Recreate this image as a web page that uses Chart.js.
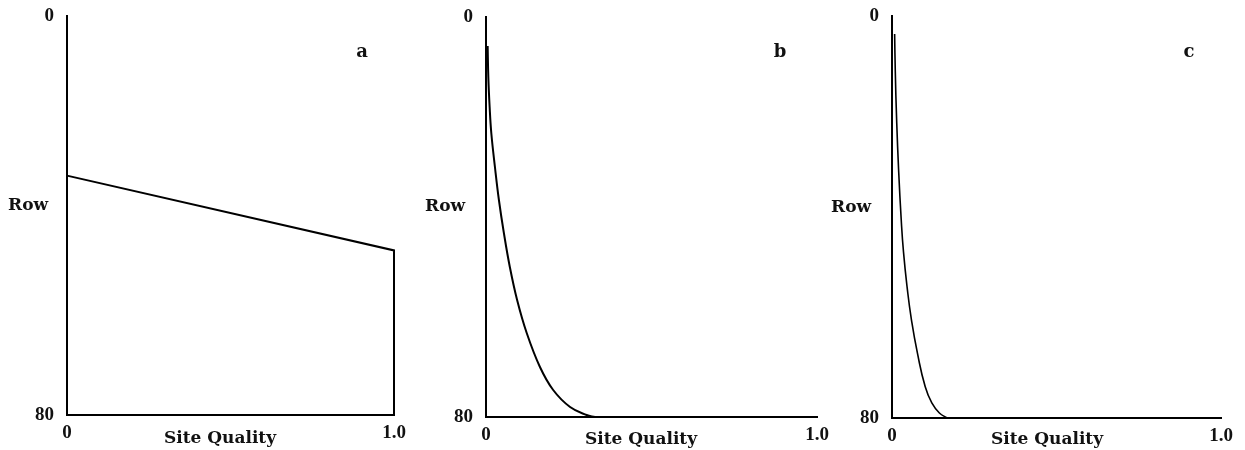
<!DOCTYPE html>
<html>
<head>
<meta charset="utf-8">
<title>Row vs Site Quality</title>
<script src="https://cdn.jsdelivr.net/npm/chart.js@4.4.1/dist/chart.umd.min.js"></script>
<style>
  html, body { margin: 0; padding: 0; background: #fff; }
  #wrap { position: relative; width: 1245px; height: 450px; overflow: hidden; }
  .panel { position: absolute; top: 0; width: 415px; height: 450px; }
</style>
</head>
<body>
<div id="wrap">
  <div class="panel" style="left:0px"><canvas id="chartA" width="415" height="450"></canvas></div>
  <div class="panel" style="left:415px"><canvas id="chartB" width="415" height="450"></canvas></div>
  <div class="panel" style="left:830px"><canvas id="chartC" width="415" height="450"></canvas></div>
</div>
<script>
// valores (Site Quality no eixo x, Row no eixo y invertido)
const xTicks = [0, 1.0];
const yTicks = [0, 80];

const qualityA = [0, 1.0, 1.0, 0];
const rowA = [32, 47, 80, 80];

// curvas b e c: parte curva + trecho plano em Row = 80 até 1.0
const qualityB = [0.005, 0.007, 0.011, 0.016, 0.027, 0.039, 0.054, 0.072, 0.094, 0.123, 0.163, 0.203, 0.254, 0.304, 0.329];
const rowB = [5.8, 12, 18, 23.2, 30, 36.6, 43.2, 50, 56.6, 63.2, 70, 74.6, 78, 79.6, 80];
const tailB = [0.329, 1.0];

const qualityC = [0.008, 0.010, 0.014, 0.020, 0.028, 0.035, 0.046, 0.059, 0.077, 0.101, 0.121, 0.144, 0.168];
const rowC = [3.6, 11, 20.5, 30.5, 40.5, 47, 54, 60.4, 67, 73.8, 77, 79, 80];
const tailC = [0.168, 1.0];
const tailRow = [80, 80];

const WORD_FONT = 'bold 17px "DejaVu Serif", serif';
const LETTER_FONT = 'bold 18px "DejaVu Serif", serif';

// textos "Row", "Site Quality" e a letra do painel
const panelText = {
  id: 'panelText',
  afterDraw(chart, args, opts) {
    const { ctx, chartArea } = chart;
    ctx.save();
    ctx.fillStyle = '#111';
    ctx.textBaseline = 'alphabetic';

    ctx.font = WORD_FONT;
    ctx.textAlign = 'left';
    ctx.fillText('Row', chartArea.left + opts.rowDx, opts.rowY);

    ctx.textAlign = 'center';
    ctx.fillText('Site Quality', chartArea.left + opts.titleDx, opts.titleY);

    ctx.font = LETTER_FONT;
    ctx.fillText(opts.letter, chartArea.right - opts.letterDx, opts.letterY);
    ctx.restore();
  }
};

function toPoints(xs, ys) {
  return xs.map((x, i) => ({ x: x, y: ys[i] }));
}

function lineSet(points, width, tension) {
  return {
    data: points,
    showLine: true,
    borderColor: '#000',
    borderWidth: width,
    pointRadius: 0,
    fill: false,
    tension: tension,
    clip: false
  };
}

function makePanel(canvasId, datasets, cfg) {
  const ctx = document.getElementById(canvasId)?.getContext('2d');
  if (!ctx) {
    console.error('Canvas não encontrado:', canvasId);
    return null;
  }
  const tickFont = { family: '"Liberation Serif", serif', size: 19, weight: 'bold' };

  return new Chart(ctx, {
    type: 'scatter',
    data: { datasets: datasets },
    options: {
      responsive: false,
      animation: false,
      layout: { padding: { left: 0, right: cfg.padRight, top: cfg.padTop, bottom: 0 } },
      plugins: {
        legend: { display: false },
        tooltip: { enabled: false },
        panelText: cfg.text
      },
      scales: {
        x: {
          type: 'linear',
          min: 0,
          max: 1,
          grid: { display: false, drawTicks: false },
          border: { display: true, color: '#000', width: 2 },
          afterBuildTicks: scale => { scale.ticks = xTicks.map(v => ({ value: v })); },
          afterFit: scale => {
            scale.height = cfg.xHeight;
            scale.paddingLeft = 0;
            scale.paddingRight = 0;
          },
          ticks: {
            color: '#111',
            font: tickFont,
            padding: 7,
            maxRotation: 0,
            callback: v => (v === 0 ? '0' : v.toFixed(1))
          }
        },
        y: {
          type: 'linear',
          min: 0,
          max: 80,
          reverse: true,
          grid: { display: false, drawTicks: false },
          border: { display: true, color: '#000', width: 2 },
          afterBuildTicks: scale => { scale.ticks = yTicks.map(v => ({ value: v })); },
          afterFit: scale => {
            scale.width = cfg.yWidth;
            scale.paddingTop = 0;
            scale.paddingBottom = 0;
          },
          ticks: {
            color: '#111',
            font: tickFont,
            padding: 13,
            callback: v => String(v)
          }
        }
      }
    },
    plugins: [panelText]
  });
}

makePanel('chartA', [lineSet(toPoints(qualityA, rowA), 2, 0)], {
  yWidth: 67, xHeight: 35, padRight: 21, padTop: 16,
  text: { rowDx: -59, rowY: 210, titleDx: 153, titleY: 443, letter: 'a', letterDx: 32, letterY: 57 }
});

makePanel('chartB', [
  lineSet(toPoints(qualityB, rowB), 2, 0.4),
  lineSet(toPoints(tailB, tailRow), 2, 0)
], {
  yWidth: 71, xHeight: 33, padRight: 13, padTop: 17,
  text: { rowDx: -61, rowY: 211, titleDx: 155, titleY: 444, letter: 'b', letterDx: 37, letterY: 57 }
});

makePanel('chartC', [
  lineSet(toPoints(qualityC, rowC), 1.6, 0.5),
  lineSet(toPoints(tailC, tailRow), 1.6, 0)
], {
  yWidth: 62, xHeight: 32, padRight: 24, padTop: 16,
  text: { rowDx: -61, rowY: 212, titleDx: 155, titleY: 444, letter: 'c', letterDx: 32, letterY: 57 }
});
</script>
</body>
</html>
